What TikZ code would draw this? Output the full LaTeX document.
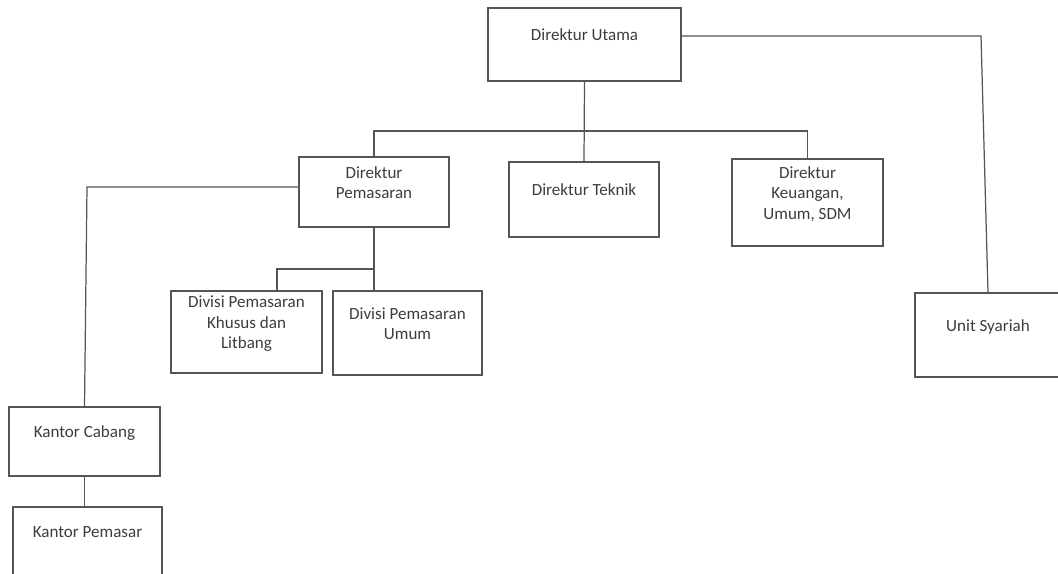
\documentclass[tikz,border=0pt]{standalone}
\usepackage{fontspec}
\setmainfont{Carlito}
\usetikzlibrary{calc,positioning}
\definecolor{rule}{HTML}{555555}
\definecolor{ink}{HTML}{3C3C3C}
\tikzset{
  orgbox/.style 2 args={draw=rule,line width=0.7pt,minimum width=#1,minimum height=#2,inner sep=0pt,align=center,text=ink,text depth=0.38cm,font=\fontsize{9.7pt}{11.6pt}\selectfont},
  link/.style={draw=rule,line width=0.7pt},
}
\begin{document}
\begin{tikzpicture}[x=0.02cm,y=-0.02cm]
\useasboundingbox (0,0) rectangle (1058,574);
\node[orgbox={3.86cm}{1.46cm}] (utama) at (584.5,44.5) {Direktur Utama};
\node[orgbox={3.0cm}{1.40cm}] (pemasaran) at (374,192) {Direktur\\Pemasaran};
\node[orgbox={3.0cm}{1.50cm}] (teknik) at (584,199.5) {Direktur Teknik};
\node[orgbox={3.02cm}{1.74cm}] (keuangan) at (807.5,202.5) {Direktur\\Keuangan,\\Umum, SDM};
\node[orgbox={3.02cm}{1.64cm}] (khusus) at (246.5,332) {Divisi Pemasaran\\Khusus dan\\Litbang};
\node[orgbox={2.98cm}{1.68cm}] (umum) at (407.5,333) {Divisi Pemasaran\\Umum};
\node[orgbox={2.92cm}{1.68cm}] (syariah) at (988,335) {Unit Syariah};
\node[orgbox={3.02cm}{1.38cm}] (cabang) at (84.5,441.5) {Kantor Cabang};
\node[orgbox={2.98cm}{1.40cm}] (pemasar) at (87.5,542) {Kantor Pemasar};
% bends of the connectors
\coordinate (bus) at (585,131);
\coordinate (sybend) at (981,36);
\coordinate (cbend) at (87,187);
\coordinate (dvbus) at (373,269);
\coordinate (kbend) at (277,269);
\draw[link] (utama.south) -- (teknik.north);
\draw[link] (pemasaran.north) -- (pemasaran.north |- bus) -- (keuangan.north |- bus) -- (keuangan.north);
\draw[link] (utama.east |- sybend) -- (sybend) -- (syariah.north);
\draw[link] (pemasaran.west |- cbend) -- (cbend) -- (cabang.north);
\draw[link] (pemasaran.south) -- (pemasaran.south |- umum.north);
\draw[link] (dvbus) -- (kbend) -- (kbend |- khusus.north);
\draw[link] (cabang.south) -- (cabang.south |- pemasar.north);
\end{tikzpicture}
\end{document}
